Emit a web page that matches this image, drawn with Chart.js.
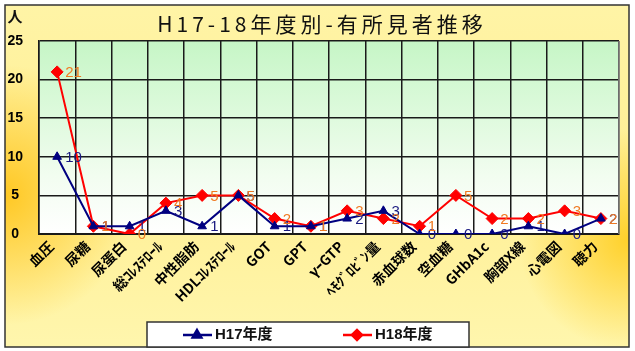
<!DOCTYPE html>
<html>
<head>
<meta charset="utf-8">
<script src="https://cdn.jsdelivr.net/npm/chart.js@4"></script>
<style>
  html, body { margin: 0; padding: 0; background: #fff; }
  #wrap { width: 635px; height: 351px; }
</style>
</head>
<body>
<div id="wrap"><canvas id="chart"></canvas></div>
<script>
var categories = ['血圧', '尿糖', '尿蛋白', '総ｺﾚｽﾃﾛｰﾙ', '中性脂肪', 'HDLｺﾚｽﾃﾛｰﾙ', 'GOT', 'GPT',
    'γｰGTP', 'ﾍﾓｸﾞﾛﾋﾞﾝ量', '赤血球数', '空血糖', 'GHbA1c', '胸部X線', '心電図', '聴力'];
var h17 = [10, 1, 1, 3, 1, 5, 1, 1, 2, 3, 0, 0, 0, 1, 0, 2];
var h18 = [21, 1, 0, 4, 5, 5, 2, 1, 3, 2, 1, 5, 2, 2, 3, 2];
var yTicks = [0, 5, 10, 15, 20, 25];
var seriesNames = ['H17年度', 'H18年度'];
var titleText = 'H17-18年度別-有所見者推移';
var yUnit = '人';

// background of the whole picture and of the plot area
var backgroundPlugin = {
    id: 'bg',
    beforeDraw: function (chart) {
        var ctx = chart.ctx;
        var a = chart.chartArea;
        ctx.save();
        ctx.fillStyle = '#ffffff';
        ctx.fillRect(0, 0, chart.width, chart.height);
        var g = ctx.createLinearGradient(0, 5, 0, 347);
        g.addColorStop(0, '#fff4a6');
        g.addColorStop(0.5, '#ffef94');
        g.addColorStop(1, '#fff6ad');
        ctx.fillStyle = g;
        ctx.fillRect(5, 5, 624, 342);
        var rl = ctx.createRadialGradient(5, 195, 0, 5, 195, 130);
        rl.addColorStop(0, 'rgba(255,198,30,0.95)');
        rl.addColorStop(1, 'rgba(255,198,30,0)');
        ctx.fillStyle = rl;
        ctx.fillRect(5, 5, 624, 342);
        var rr = ctx.createRadialGradient(629, 240, 0, 629, 240, 110);
        rr.addColorStop(0, 'rgba(255,205,30,0.9)');
        rr.addColorStop(1, 'rgba(255,205,30,0)');
        ctx.fillStyle = rr;
        ctx.fillRect(5, 5, 624, 342);
        ctx.strokeStyle = '#333333';
        ctx.lineWidth = 1.5;
        ctx.strokeRect(5, 5, 624, 342);

        var pg = ctx.createLinearGradient(0, a.top, 0, a.bottom);
        pg.addColorStop(0, '#c6f6c6');
        pg.addColorStop(0.7, '#f2fdf0');
        pg.addColorStop(1, '#ffffff');
        ctx.fillStyle = pg;
        ctx.fillRect(a.left, a.top, a.right - a.left, a.bottom - a.top);
        ctx.restore();
    },
    afterDraw: function (chart) {
        var ctx = chart.ctx;
        var a = chart.chartArea;
        ctx.save();
        // title
        ctx.fillStyle = '#111111';
        ctx.font = '21px "Noto Sans CJK JP"';
        ctx.letterSpacing = '4px';
        ctx.textAlign = 'center';
        ctx.textBaseline = 'middle';
        ctx.fillText(titleText, 322, 24);
        ctx.letterSpacing = '0px';
        // y unit
        ctx.font = 'bold 15px "Noto Sans CJK JP"';
        ctx.fillText(yUnit, 15, 16);
        // plot border
        ctx.strokeStyle = '#888888';
        ctx.lineWidth = 1.5;
        ctx.beginPath();
        ctx.moveTo(a.right, a.top);
        ctx.lineTo(a.right, a.bottom);
        ctx.stroke();
        // legend
        ctx.fillStyle = '#ffffff';
        ctx.fillRect(147, 322, 322, 25);
        ctx.strokeStyle = '#333333';
        ctx.lineWidth = 1.5;
        ctx.strokeRect(147, 322, 322, 25);
        var items = [
            { x: 183, color: '#000080', style: 'triangle', label: seriesNames[0] },
            { x: 343, color: '#ff0000', style: 'rectRot', label: seriesNames[1] }
        ];
        items.forEach(function (it) {
            var y = 335;
            ctx.strokeStyle = it.color;
            ctx.lineWidth = 2.5;
            ctx.beginPath();
            ctx.moveTo(it.x, y);
            ctx.lineTo(it.x + 29, y);
            ctx.stroke();
            ctx.fillStyle = it.color;
            Chart.helpers.drawPoint(ctx, { pointStyle: it.style, radius: 5, rotation: 0, borderWidth: 1 }, it.x + 14, y);
            ctx.fillStyle = '#111111';
            ctx.font = 'bold 15px "Liberation Sans", "Noto Sans CJK JP"';
            ctx.textAlign = 'left';
            ctx.textBaseline = 'middle';
            ctx.fillText(it.label, it.x + 32, y);
        });
        ctx.restore();
    },
    afterDatasetsDraw: function (chart) {
        var ctx = chart.ctx;
        ctx.save();
        ctx.font = '15px "Liberation Sans", Arial';
        ctx.textAlign = 'left';
        ctx.textBaseline = 'middle';
        chart.data.datasets.forEach(function (ds, i) {
            var meta = chart.getDatasetMeta(i);
            ctx.fillStyle = i === 0 ? '#1a1a80' : '#f07a22';
            meta.data.forEach(function (pt, j) {
                ctx.fillText(String(ds.data[j]), pt.x + 8, pt.y + 1);
            });
        });
        ctx.restore();
    }
};

new Chart(document.getElementById('chart'), {
    type: 'line',
    data: {
        labels: categories,
        datasets: [{
            label: seriesNames[0],
            data: h17,
            borderColor: '#000080',
            backgroundColor: '#000080',
            borderWidth: 2,
            pointStyle: 'triangle',
            pointRadius: 5,
            pointBorderWidth: 1,
            tension: 0
        }, {
            label: seriesNames[1],
            data: h18,
            borderColor: '#ff0000',
            backgroundColor: '#ff0000',
            borderWidth: 2,
            pointStyle: 'rectRot',
            pointRadius: 6,
            pointBorderWidth: 1,
            tension: 0
        }]
    },
    options: {
        responsive: true,
        maintainAspectRatio: false,
        animation: false,
        layout: { padding: { left: 0, right: 16, top: 41, bottom: 0 } },
        plugins: {
            legend: { display: false },
            title: { display: false },
            tooltip: { enabled: false }
        },
        scales: {
            x: {
                offset: true,
                grid: { offset: true, color: '#1a1a1a', lineWidth: 1.5, drawTicks: false },
                border: { color: '#1a1a1a', width: 2 },
                ticks: {
                    color: '#000000',
                    font: { family: '"Noto Sans CJK JP"', size: 14, weight: 'bold' },
                    minRotation: 45,
                    maxRotation: 45,
                    autoSkip: false,
                    labelOffset: -6,
                    padding: 4
                },
                afterFit: function (s) { s.height = 117; }
            },
            y: {
                min: 0,
                max: 25,
                afterBuildTicks: function (s) { s.ticks = yTicks.map(function (v) { return { value: v }; }); },
                grid: { color: '#1a1a1a', lineWidth: 1.5, drawTicks: false },
                border: { color: '#1a1a1a', width: 1.5 },
                ticks: {
                    color: '#000000',
                    font: { family: '"Liberation Sans", Arial', size: 14, weight: 'bold' },
                    crossAlign: 'center',
                    padding: 16
                },
                afterFit: function (s) { s.width = 39; }
            }
        }
    },
    plugins: [backgroundPlugin]
});
</script>
</body>
</html>
